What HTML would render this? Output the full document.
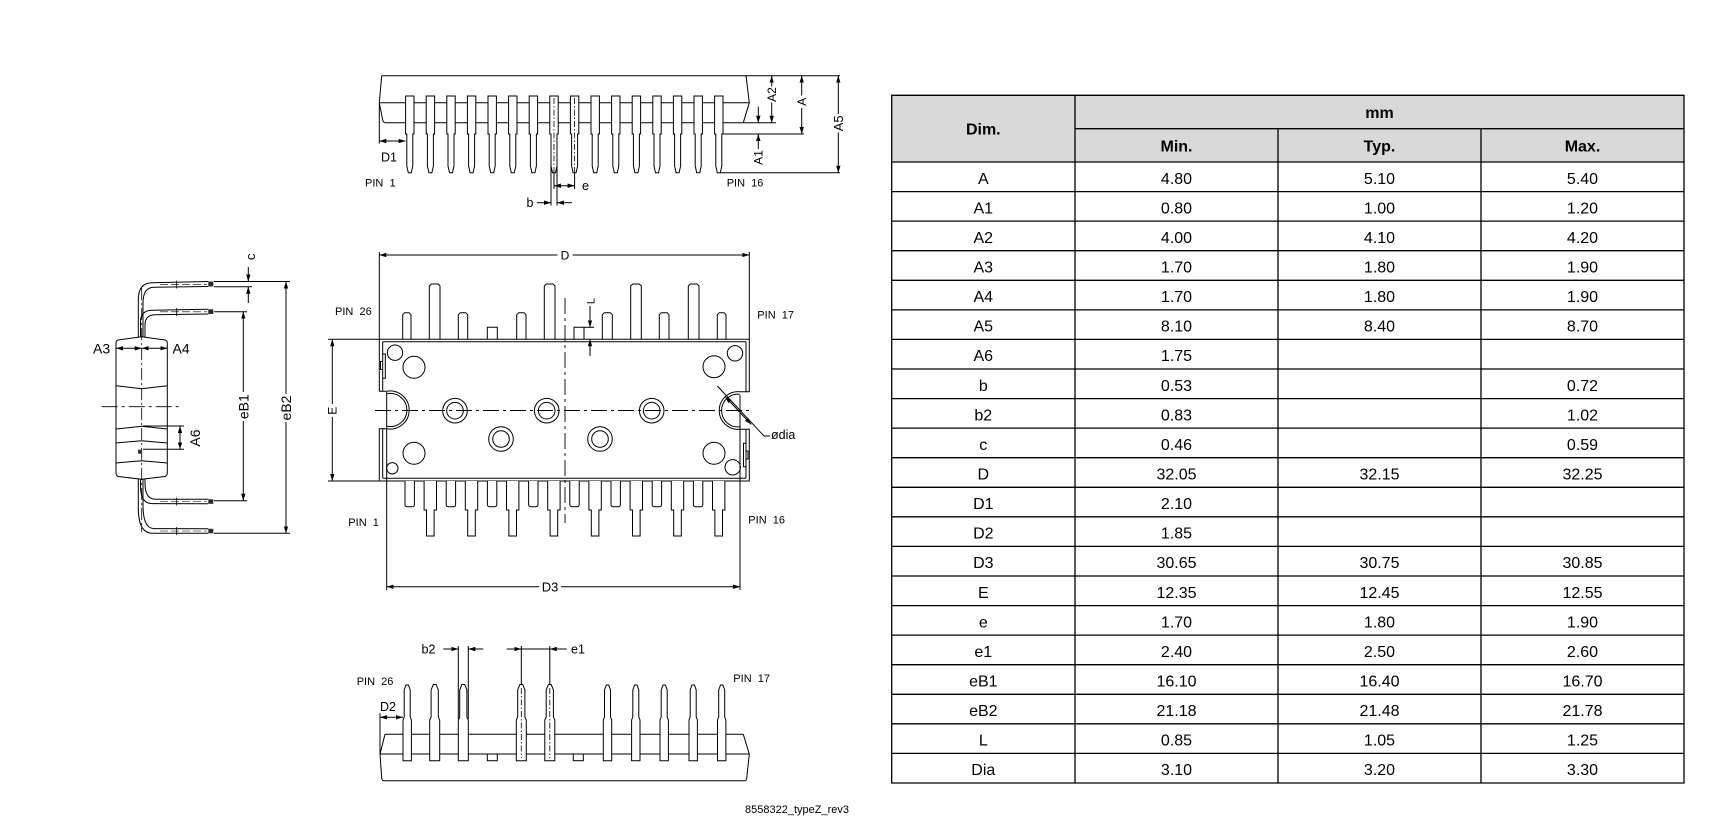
<!DOCTYPE html>
<html><head><meta charset="utf-8"><style>
html,body{margin:0;padding:0;background:#fff;}
svg{display:block;}
text{font-family:"Liberation Sans",Arial,sans-serif;fill:#000;}
</style></head><body>
<svg width="1710" height="826" viewBox="0 0 1710 826" xmlns="http://www.w3.org/2000/svg">
<defs>
<marker id="a" viewBox="0 0 8 5" refX="8" refY="2.5" markerWidth="7" markerHeight="4.4" orient="auto-start-reverse" markerUnits="userSpaceOnUse"><path d="M0,0L8,2.5L0,5Z" fill="#000"/></marker>
<path id="tp" d="M-4.2,96H4.2V134H3V166L1.5,172.7H-1.5L-3,166V134H-4.2Z" fill="#fff" stroke="#000"/>
<path id="ps" d="M-4.7,481V504.5Q-4.7,506.7 -2.5,506.7H2.5Q4.7,506.7 4.7,504.5V481" fill="#fff" stroke="#000"/>
<path id="pl" d="M-6.2,481V510H-3.8V536H3.8V510H6.2V481" fill="#fff" stroke="#000"/>
<path id="bn" d="M-4.2,760.7V720L-3,717V690L-1.2,685H1.2L3,690V717L4.2,720V760.7Z" fill="#fff" stroke="#000"/>
<path id="bw" d="M-5,760.7V720L-3.6,717V690L-1.4,684.5H1.4L3.6,690V717L5,720V760.7Z" fill="#fff" stroke="#000"/>
<clipPath id="cl"><rect x="0" y="790" width="850.5" height="36"/></clipPath>
</defs>
<rect width="1710" height="826" fill="#fff"/>

<!-- ============ TOP VIEW (elevation) ============ -->
<g fill="none" stroke="#000" stroke-width="1">
<path d="M381.7,75.7H840"/>
<path d="M381.7,75.7L379.3,102.7L382.7,120Q383.5,122.7 385.5,122.7H776"/>
<path d="M746,75.7L749.3,102.7L743.3,122.7"/>
<path d="M379.3,102.7H749.3"/>
<path d="M379.3,102.7V143.5"/>
<path d="M723,134H804"/>
<path d="M720,172.7H840"/>
</g>
<g>
<use href="#tp" x="409.8"/><use href="#tp" x="430.4"/><use href="#tp" x="451"/><use href="#tp" x="471.6"/>
<use href="#tp" x="492.2"/><use href="#tp" x="512.8"/><use href="#tp" x="533.4"/><use href="#tp" x="554"/>
<use href="#tp" x="574.6"/><use href="#tp" x="595.2"/><use href="#tp" x="615.8"/><use href="#tp" x="636.4"/>
<use href="#tp" x="657"/><use href="#tp" x="677.6"/><use href="#tp" x="698.2"/><use href="#tp" x="718.8"/>
</g>
<g fill="none" stroke="#000" stroke-width="1">
<path d="M554,98V172.7M574.6,98V172.7" stroke-dasharray="6 2 1.5 2" stroke-width="0.8"/>
<path d="M554,172.7V189M574.6,172.7V189"/>
<path d="M551,166V205.5M557,166V205.5"/>
<line x1="554" y1="185.7" x2="574.6" y2="185.7" marker-start="url(#a)" marker-end="url(#a)"/>
<path d="M537,202.7H551" marker-end="url(#a)"/>
<path d="M572,202.7H557" marker-end="url(#a)"/>
<line x1="379.3" y1="141" x2="405.6" y2="141" marker-start="url(#a)" marker-end="url(#a)"/>
<path d="M771.7,86.5V75.7" marker-end="url(#a)"/>
<path d="M771.7,102.5V122.7" marker-end="url(#a)"/>
<path d="M801.7,95.5V75.7" marker-end="url(#a)"/>
<path d="M801.7,108V134" marker-end="url(#a)"/>
<path d="M838.3,114V75.7" marker-end="url(#a)"/>
<path d="M838.3,132.5V172.7" marker-end="url(#a)"/>
<path d="M758.3,106.7V122.7" marker-end="url(#a)"/>
<path d="M758.3,149V134" marker-end="url(#a)"/>
</g>
<g font-size="12.5">
<text x="582" y="190">e</text>
<text x="526.5" y="207">b</text>
<text x="381" y="161.5">D1</text>
<text transform="translate(771.7,94.5) rotate(-90)" text-anchor="middle" dy="0.36em" font-size="12">A2</text>
<text transform="translate(801.7,101.7) rotate(-90)" text-anchor="middle" dy="0.36em" font-size="12">A</text>
<text transform="translate(838.3,123.3) rotate(-90)" text-anchor="middle" dy="0.36em" font-size="13">A5</text>
<text transform="translate(758.3,157.5) rotate(-90)" text-anchor="middle" dy="0.36em" font-size="12">A1</text>
</g>
<g font-size="11" style="white-space:pre">
<text x="365" y="186.7" xml:space="preserve">PIN  1</text>
<text x="726.7" y="186.7" xml:space="preserve">PIN  16</text>
</g>

<!-- ============ PLAN VIEW ============ -->
<g fill="none" stroke="#000" stroke-width="1">
<path d="M328,339.3H749.3V391.7H740A18.9,18.9 0 1 0 740,429.3H749.3V481H328"/>
<path d="M379.3,339.3V391.2H386.7A19.1,19.1 0 1 1 386.7,428.8H379.3V481"/>
<path d="M387.2,393.7A16.6,16.6 0 1 1 387.2,426.3"/>
<path d="M739.8,394.2A16.4,16.4 0 1 0 739.8,426.8"/>
<path d="M382.7,341.7V391.2M382.7,428.8V478.3M382.7,341.7H746M382.7,478.3H746M746,341.7V391.7M746,429.3V478.3"/>
<path d="M382.7,354H385.3V378.3H382.7M382.7,361.5H380.5V369.5H382.7"/>
<path d="M746,443.3H743.5V466.7H746M746,451H748V459H746"/>
<circle cx="395" cy="352.7" r="7.7"/>
<circle cx="414" cy="367.3" r="11"/>
<circle cx="414" cy="453.3" r="11"/>
<circle cx="392.3" cy="468.3" r="5.7"/>
<circle cx="735" cy="353.3" r="7.7"/>
<circle cx="714" cy="366.7" r="11"/>
<circle cx="714" cy="453.3" r="11"/>
<circle cx="732.7" cy="467.3" r="7.7"/>
<circle cx="455" cy="410.7" r="12.3"/><circle cx="455" cy="410.7" r="8.3"/>
<circle cx="546.7" cy="410.7" r="12.3"/><circle cx="546.7" cy="410.7" r="8.3"/>
<circle cx="651.7" cy="410.7" r="12.3"/><circle cx="651.7" cy="410.7" r="8.3"/>
<circle cx="501" cy="439" r="12.3"/><circle cx="501" cy="439" r="8.3"/>
<circle cx="600" cy="439" r="12.3"/><circle cx="600" cy="439" r="8.3"/>
<!-- top pins -->
<path d="M429.3,339.3V286L431.3,284H438L440,286V339.3"/>
<path d="M544.3,339.3V286L546.3,284H553L555,286V339.3"/>
<path d="M630.7,339.3V286L632.7,284H639.3L641.3,286V339.3"/>
<path d="M688.3,339.3V286L690.3,284H697L699,286V339.3"/>
<path d="M402.7,339.3V314.7L404.7,312.7H409L411,314.7V339.3"/>
<path d="M458.3,339.3V314.7L460.3,312.7H465.7L467.7,314.7V339.3"/>
<path d="M516.7,339.3V314.7L518.7,312.7H524L526,314.7V339.3"/>
<path d="M602.3,339.3V314.7L604.3,312.7H610.3L612.3,314.7V339.3"/>
<path d="M659.3,339.3V314.7L661.3,312.7H667L669,314.7V339.3"/>
<path d="M717.3,339.3V314.7L719.3,312.7H724L726,314.7V339.3"/>
<path d="M487.3,339.3V327.3H497.3V339.3"/>
<path d="M574,339.3V327.3H584V339.3"/>
<!-- center lines -->
<path d="M375,410.5H752M565,298V523" stroke-dasharray="16 4 3 4" stroke-width="0.9"/>
<!-- D -->
<path d="M379.3,252V339.3M749.3,252V339.3"/>
<path d="M557.5,255H379.3" marker-end="url(#a)"/>
<path d="M572.5,255H749.3" marker-end="url(#a)"/>
<!-- D3 -->
<path d="M386.7,392V590M740,395V590"/>
<path d="M539,586.7H386.7" marker-end="url(#a)"/>
<path d="M561,586.7H740" marker-end="url(#a)"/>
<!-- E -->
<path d="M332.3,404V339.3" marker-end="url(#a)"/>
<path d="M332.3,417V481" marker-end="url(#a)"/>
<!-- L -->
<path d="M584,327.3H594"/>
<path d="M590,306V327.3" marker-end="url(#a)"/>
<path d="M590,356V339.3" marker-end="url(#a)"/>
<!-- dia -->
<path d="M717.3,386L764,436H770"/>
<path d="M738.2,410.5L725.2,396.6" marker-end="url(#a)"/>
<path d="M738.2,410.5L751.2,424.4" marker-end="url(#a)"/>
</g>
<g>
<use href="#ps" x="409.7"/><use href="#ps" x="450.9"/><use href="#ps" x="492.1"/><use href="#ps" x="533.3"/>
<use href="#ps" x="574.5"/><use href="#ps" x="615.7"/><use href="#ps" x="656.9"/><use href="#ps" x="698.1"/>
<use href="#pl" x="430.3"/><use href="#pl" x="471.5"/><use href="#pl" x="512.7"/><use href="#pl" x="553.9"/>
<use href="#pl" x="595.1"/><use href="#pl" x="636.3"/><use href="#pl" x="677.5"/><use href="#pl" x="718.7"/>
</g>
<g font-size="12.5">
<text x="565" y="259.5" text-anchor="middle" font-size="12">D</text>
<text x="550" y="591.3" text-anchor="middle" font-size="13">D3</text>
<text transform="translate(332.3,410.7) rotate(-90)" text-anchor="middle" dy="0.36em" font-size="12">E</text>
<text transform="translate(590.5,301) rotate(-90)" text-anchor="middle" dy="0.36em" font-size="11">L</text>
<text x="771" y="438.8">ødia</text>
</g>
<g font-size="11" style="white-space:pre">
<text x="335" y="315" xml:space="preserve">PIN  26</text>
<text x="757.3" y="318.3" xml:space="preserve">PIN  17</text>
<text x="348.3" y="526" xml:space="preserve">PIN  1</text>
<text x="748.3" y="523.5" xml:space="preserve">PIN  16</text>
</g>

<!-- ============ SIDE VIEW ============ -->
<g fill="none" stroke="#000" stroke-width="1">
<!-- leads -->
<path d="M138.3,338V300Q138.3,283 152,282.8L208.3,281.5"/>
<path d="M143,338V303Q143,287.3 154,287.2L208.3,286.5"/>
<path d="M140.5,338V322Q140.5,310.5 152,310.3L208.3,309.3"/>
<path d="M145,338V325Q145,315 155,314.8L208.3,314"/>
<path d="M145,478V483Q145,499 155,499.2L208.3,499.3"/>
<path d="M140.5,478V486Q140.5,503.5 152,503.6L208.3,503.8"/>
<path d="M143,478V505Q143,528.5 154,528.6L208.3,528.8"/>
<path d="M138.3,478V508Q138.3,533 152,533.2L208.3,533.3"/>
<path d="M160,284.3H207M160,311.8H207M160,501.5H207M160,531H207" stroke-dasharray="8 3" stroke-width="0.6"/>
<path d="M176.7,280.5V288.5M176.7,308V316M176.7,497.5V505.5M176.7,527V535" stroke-width="0.8"/>
</g>
<g fill="#2a2a2a">
<rect x="208.3" y="281.5" width="5" height="5"/>
<rect x="208.3" y="309.3" width="5" height="4.7"/>
<rect x="208.3" y="499.3" width="5" height="4.5"/>
<rect x="208.3" y="528.8" width="5" height="4.5"/>
</g>
<g fill="none" stroke="#000" stroke-width="1">
<path d="M118,340L141.7,336.7L165,340Q167.3,340.5 167.3,343V473Q167.3,475.5 165,476.5L141.7,479.3L118,476.5Q116,475.5 116,473V343Q116,340.5 118,340Z" fill="#fff"/>
<path d="M116,385.7L141.7,388.7L167.3,385.7"/>
<path d="M116,429L141.7,426.3L167.3,429"/>
<path d="M116,443L141.7,440.7L167.3,443"/>
<path d="M116,463L141.7,460.7L167.3,463"/>
<path d="M141.7,288V532" stroke-dasharray="12 3 2 3" stroke-width="0.8"/>
<path d="M101.7,406.7H180" stroke-dasharray="16 4 3 4" stroke-width="0.9"/>
<!-- c -->
<path d="M214,281.5H290M214,286.8H252"/>
<path d="M248.3,267V281.5" marker-end="url(#a)"/>
<path d="M248.3,303V286.8" marker-end="url(#a)"/>
<!-- eB2 -->
<path d="M214,533.3H290"/>
<path d="M286,394V281.5" marker-end="url(#a)"/>
<path d="M286,422V533.3" marker-end="url(#a)"/>
<!-- eB1 -->
<path d="M214,311.7H247M214,500.7H247"/>
<path d="M243.3,392V311.7" marker-end="url(#a)"/>
<path d="M243.3,421V500.7" marker-end="url(#a)"/>
<!-- A3 A4 -->
<line x1="116" y1="348.3" x2="141.7" y2="348.3" marker-start="url(#a)" marker-end="url(#a)"/>
<line x1="141.7" y1="348.3" x2="167.3" y2="348.3" marker-start="url(#a)" marker-end="url(#a)"/>
<!-- A6 -->
<path d="M143,426H184M143,449.3H184"/>
<line x1="180" y1="426" x2="180" y2="449.3" marker-start="url(#a)" marker-end="url(#a)"/>
</g>
<rect x="138" y="449.7" width="4" height="4" fill="#333"/>
<g font-size="14">
<text x="93" y="353.5">A3</text>
<text x="172.5" y="353.5">A4</text>
<text transform="translate(250.5,256.7) rotate(-90)" text-anchor="middle" dy="0.36em" font-size="13">c</text>
<text transform="translate(286,408) rotate(-90)" text-anchor="middle" dy="0.36em">eB2</text>
<text transform="translate(243.3,406.7) rotate(-90)" text-anchor="middle" dy="0.36em">eB1</text>
<text transform="translate(195,438) rotate(-90)" text-anchor="middle" dy="0.36em">A6</text>
</g>

<!-- ============ BOTTOM VIEW ============ -->
<g fill="none" stroke="#000" stroke-width="1">
<path d="M385,734.3H743.3"/>
<path d="M380,754H749.3"/>
<path d="M383.5,780.7H745"/>
<path d="M385,734.3L380,754L381.7,778.3Q382.3,780.7 383.5,780.7"/>
<path d="M743.3,734.3L749.3,754L746.7,778.3Q746.2,780.7 745,780.7"/>
<rect x="487.3" y="754" width="10" height="6.7"/>
<rect x="573.3" y="754" width="10" height="6.7"/>
</g>
<g>
<use href="#bn" x="407.2"/><use href="#bw" x="434.7"/><use href="#bw" x="463.3"/><use href="#bw" x="521.3"/>
<use href="#bw" x="549.8"/><use href="#bn" x="607.5"/><use href="#bn" x="635.8"/><use href="#bn" x="664.2"/>
<use href="#bn" x="693.2"/><use href="#bn" x="721.7"/>
</g>
<g fill="none" stroke="#000" stroke-width="1">
<path d="M521.3,688V758M549.8,688V758" stroke-dasharray="6 2 1.5 2" stroke-width="0.8"/>
<path d="M521.3,646V685M549.8,646V685"/>
<path d="M458.3,646V719M468.3,646V719"/>
<path d="M506.7,649H521.3" marker-end="url(#a)"/>
<path d="M566.7,649H549.8" marker-end="url(#a)"/>
<path d="M521.3,649H549.8"/>
<path d="M443.3,649H458.3" marker-end="url(#a)"/>
<path d="M483.3,649H468.3" marker-end="url(#a)"/>
<path d="M380,713V754"/>
<line x1="380" y1="717.3" x2="403" y2="717.3" marker-start="url(#a)" marker-end="url(#a)"/>
</g>
<g font-size="12.5">
<text x="571" y="653.3">e1</text>
<text x="421.5" y="653.5">b2</text>
<text x="380" y="711">D2</text>
</g>
<g font-size="11" style="white-space:pre">
<text x="356.7" y="685" xml:space="preserve">PIN  26</text>
<text x="733.3" y="682" xml:space="preserve">PIN  17</text>
</g>
<text x="745" y="813" font-size="11" clip-path="url(#cl)">8558322_typeZ_rev3</text>

<!-- ============ TABLE ============ -->
<rect x="891.7" y="95.3" width="792.3" height="66.7" fill="#d9d9d9"/>
<g fill="none" stroke="#000" stroke-width="1.3">
<path d="M891.7,95.3H1684V783H891.7Z"/>
<path d="M1075,95.3V783M1278,128.7V783M1481,128.7V783M1075,128.7H1684"/>
<path d="M891.7,162H1684M891.7,191.6H1684M891.7,221.1H1684M891.7,250.7H1684M891.7,280.3H1684M891.7,309.9H1684M891.7,339.4H1684M891.7,369H1684M891.7,398.6H1684M891.7,428.1H1684M891.7,457.7H1684M891.7,487.3H1684M891.7,516.8H1684M891.7,546.4H1684M891.7,576H1684M891.7,605.6H1684M891.7,635.1H1684M891.7,664.7H1684M891.7,694.3H1684M891.7,723.8H1684M891.7,753.4H1684"/>
</g>
<g font-size="16" font-weight="bold" text-anchor="middle">
<text x="983.3" y="134.5">Dim.</text>
<text x="1379.5" y="118">mm</text>
<text x="1176.5" y="151.5">Min.</text>
<text x="1379.5" y="151.5">Typ.</text>
<text x="1582.5" y="151.5">Max.</text>
</g>
<g font-size="16" text-anchor="middle">
<text x="983.3" y="183.8">A</text><text x="1176.5" y="183.8">4.80</text><text x="1379.5" y="183.8">5.10</text><text x="1582.5" y="183.8">5.40</text>
<text x="983.3" y="213.4">A1</text><text x="1176.5" y="213.4">0.80</text><text x="1379.5" y="213.4">1.00</text><text x="1582.5" y="213.4">1.20</text>
<text x="983.3" y="242.9">A2</text><text x="1176.5" y="242.9">4.00</text><text x="1379.5" y="242.9">4.10</text><text x="1582.5" y="242.9">4.20</text>
<text x="983.3" y="272.5">A3</text><text x="1176.5" y="272.5">1.70</text><text x="1379.5" y="272.5">1.80</text><text x="1582.5" y="272.5">1.90</text>
<text x="983.3" y="302.1">A4</text><text x="1176.5" y="302.1">1.70</text><text x="1379.5" y="302.1">1.80</text><text x="1582.5" y="302.1">1.90</text>
<text x="983.3" y="331.6">A5</text><text x="1176.5" y="331.6">8.10</text><text x="1379.5" y="331.6">8.40</text><text x="1582.5" y="331.6">8.70</text>
<text x="983.3" y="361.2">A6</text><text x="1176.5" y="361.2">1.75</text>
<text x="983.3" y="390.8">b</text><text x="1176.5" y="390.8">0.53</text><text x="1582.5" y="390.8">0.72</text>
<text x="983.3" y="420.4">b2</text><text x="1176.5" y="420.4">0.83</text><text x="1582.5" y="420.4">1.02</text>
<text x="983.3" y="449.9">c</text><text x="1176.5" y="449.9">0.46</text><text x="1582.5" y="449.9">0.59</text>
<text x="983.3" y="479.5">D</text><text x="1176.5" y="479.5">32.05</text><text x="1379.5" y="479.5">32.15</text><text x="1582.5" y="479.5">32.25</text>
<text x="983.3" y="509.1">D1</text><text x="1176.5" y="509.1">2.10</text>
<text x="983.3" y="538.6">D2</text><text x="1176.5" y="538.6">1.85</text>
<text x="983.3" y="568.2">D3</text><text x="1176.5" y="568.2">30.65</text><text x="1379.5" y="568.2">30.75</text><text x="1582.5" y="568.2">30.85</text>
<text x="983.3" y="597.8">E</text><text x="1176.5" y="597.8">12.35</text><text x="1379.5" y="597.8">12.45</text><text x="1582.5" y="597.8">12.55</text>
<text x="983.3" y="627.3">e</text><text x="1176.5" y="627.3">1.70</text><text x="1379.5" y="627.3">1.80</text><text x="1582.5" y="627.3">1.90</text>
<text x="983.3" y="656.9">e1</text><text x="1176.5" y="656.9">2.40</text><text x="1379.5" y="656.9">2.50</text><text x="1582.5" y="656.9">2.60</text>
<text x="983.3" y="686.5">eB1</text><text x="1176.5" y="686.5">16.10</text><text x="1379.5" y="686.5">16.40</text><text x="1582.5" y="686.5">16.70</text>
<text x="983.3" y="716.1">eB2</text><text x="1176.5" y="716.1">21.18</text><text x="1379.5" y="716.1">21.48</text><text x="1582.5" y="716.1">21.78</text>
<text x="983.3" y="745.6">L</text><text x="1176.5" y="745.6">0.85</text><text x="1379.5" y="745.6">1.05</text><text x="1582.5" y="745.6">1.25</text>
<text x="983.3" y="775.2">Dia</text><text x="1176.5" y="775.2">3.10</text><text x="1379.5" y="775.2">3.20</text><text x="1582.5" y="775.2">3.30</text>
</g>
</svg>
</body></html>
